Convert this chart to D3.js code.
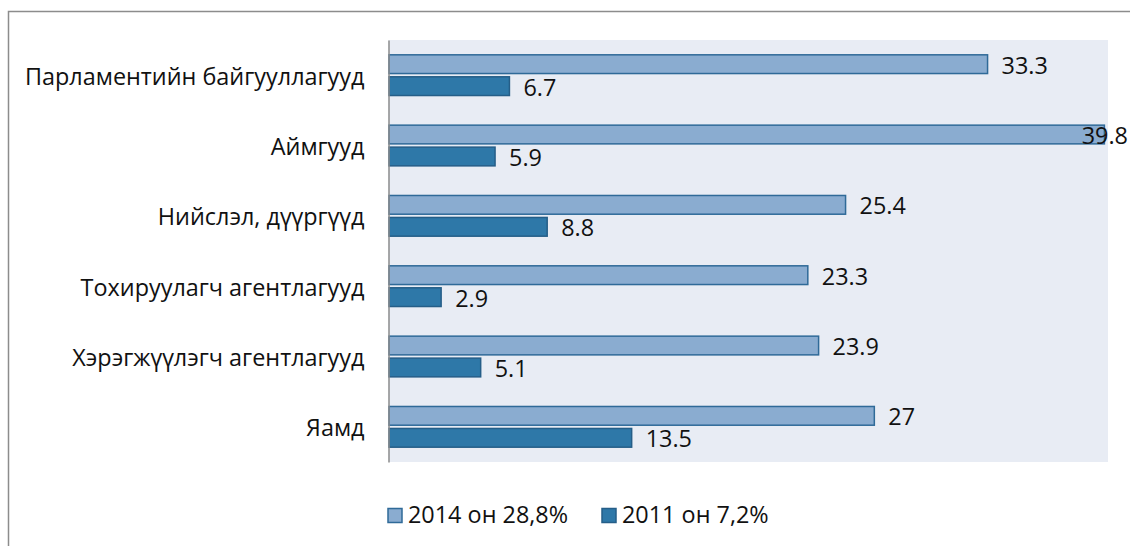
<!DOCTYPE html>
<html><head><meta charset="utf-8">
<script src="https://cdn.jsdelivr.net/npm/d3@7"></script>
<style>body{margin:0;background:#fff}svg{display:block}text{font-family:"Open Sans","Noto Sans",sans-serif}</style>
</head><body>
<svg id="c" width="1130" height="546"></svg>
<script>
const categories = ["Парламентийн байгууллагууд","Аймгууд","Нийслэл, дүүргүүд","Тохируулагч агентлагууд","Хэрэгжүүлэгч агентлагууд","Яамд"];
const series2014 = [33.3, 39.8, 25.4, 23.3, 23.9, 27];
const series2011 = [6.7, 5.9, 8.8, 2.9, 5.1, 13.5];
const seriesNames = ["2014 он 28,8%", "2011 он 7,2%"];
const xTicks = [0, 10, 20, 30, 40];

const svg = d3.select("#c");
const W = 1130, H = 546;
const FS = 23.4;
const plot = {l: 388.5, r: 1108, t: 40, b: 462};
const colors = [{fill:"#8AACD0", stroke:"#2F6A98"}, {fill:"#2E78A8", stroke:"#255E88"}];

// outer border
svg.append("path").attr("d", `M8.5,${H} V11.5 H${W}`).attr("fill","none").attr("stroke","#8c8c8c").attr("stroke-width",1.5);

svg.append("rect").attr("x",plot.l).attr("y",plot.t).attr("width",plot.r-plot.l).attr("height",plot.b-plot.t).attr("fill","#E8ECF4");

const x = d3.scaleLinear().domain([0, d3.max(xTicks)]).range([plot.l+0.5, plot.r]);
const y = d3.scaleBand().domain(categories).range([plot.t, plot.b]).paddingInner(0.4).paddingOuter(0.2);
const sub = d3.scaleBand().domain([0,1]).range([0, y.bandwidth()]).paddingInner(0.08);

const data = categories.map((c,i)=>({c, v:[series2014[i], series2011[i]]}));

const g = svg.append("g");
data.forEach(d=>{
  d.v.forEach((v,k)=>{
    const by = y(d.c) + sub(k);
    g.append("rect").attr("x", x(0)).attr("y", by+0.75).attr("width", x(v)-x(0)).attr("height", sub.bandwidth()-1.5)
      .attr("fill", colors[k].fill).attr("stroke", colors[k].stroke).attr("stroke-width",1.5);
    const t = g.append("text").attr("y", by + sub.bandwidth() - 0.5).attr("font-size",FS).attr("fill","#111").text(String(v));
    let tx = x(v) + 14;
    const w = t.node().getComputedTextLength();
    if (tx + w > W - 2) tx = W - 2 - w;
    t.attr("x", tx);
  });
});

// axis line
const yAxis = d3.axisLeft(y).tickSize(0).tickPadding(24);
const ag = svg.append("g").attr("transform",`translate(${plot.l},0)`).call(yAxis);
ag.select(".domain").attr("stroke","#8c8c8c").attr("stroke-width",1.5);
ag.selectAll(".tick text").attr("font-size",FS).attr("fill","#111").attr("font-family",'"Open Sans","Noto Sans",sans-serif').attr("dy",null).attr("y",9.5);
ag.selectAll(".tick").attr("transform", d=>`translate(0,${y(d)+y.bandwidth()/2})`);

// legend
const leg = svg.append("g");
const lx = [388, 602];
seriesNames.forEach((n,k)=>{
  leg.append("rect").attr("x", lx[k]).attr("y", 508.5).attr("width",14).attr("height",14).attr("fill",colors[k].fill).attr("stroke",colors[k].stroke).attr("stroke-width",1.5);
  leg.append("text").attr("x", lx[k]+20).attr("y", 522.5).attr("font-size",FS).attr("fill","#111").text(n);
});
</script>
</body></html>
